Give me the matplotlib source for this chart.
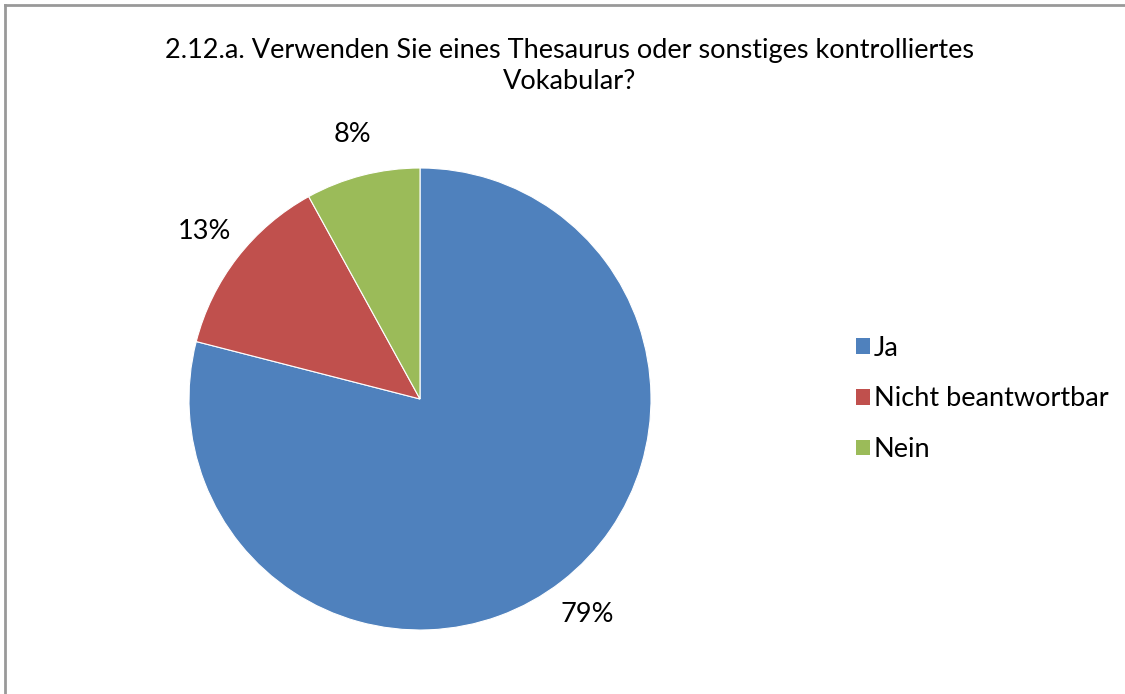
"""Pie chart: use of thesaurus / controlled vocabulary."""

import matplotlib

matplotlib.use("Agg")

import matplotlib.pyplot as plt
from matplotlib.lines import Line2D
from matplotlib.patches import Patch

title = "2.12.a. Verwenden Sie eines Thesaurus oder sonstiges kontrolliertes\nVokabular?"
categories = ["Ja", "Nicht beantwortbar", "Nein"]
shares = [79, 13, 8]
colors = ["#4F81BD", "#C0504D", "#9BBB59"]

plt.rcParams["font.family"] = ["Lato", "DejaVu Sans"]
font_size = 19.5

fig = plt.figure(figsize=(11.25, 6.94), dpi=100)

# gray frame (only top and left edges are visible in the original)
fig.add_artist(Line2D([5 / 1125, 5 / 1125], [0, 1 - 5 / 694], color="#999999", lw=2))
fig.add_artist(Line2D([5 / 1125, 1], [1 - 5 / 694, 1 - 5 / 694], color="#999999", lw=2))

ax = fig.add_axes([189 / 1125, 64 / 694, 462 / 1125, 462 / 694])
wedges, _, autotexts = ax.pie(
    shares,
    colors=colors,
    startangle=90,
    counterclock=False,
    autopct="%1.0f%%",
    pctdistance=1.18,
    wedgeprops={"linewidth": 0.8, "edgecolor": "white"},
    textprops={"fontsize": font_size, "color": "black"},
)
ax.set_xlim(-1, 1)
ax.set_ylim(-1, 1)
ax.set_aspect("equal")

fig.text(0.506, 1 - 66 / 694, title, ha="center", va="center",
         fontsize=font_size, linespacing=1.3)

handles = [Patch(facecolor=c, edgecolor="none") for c in colors]
fig.legend(
    handles,
    categories,
    loc="center left",
    bbox_to_anchor=(856 / 1125, 295 / 694),
    frameon=False,
    fontsize=font_size,
    handlelength=0.5,
    handleheight=0.5,
    handletextpad=0.15,
    labelspacing=0.95,
    borderpad=0,
    borderaxespad=0,
)

fig.savefig("out.png", dpi=100)
plt.close(fig)
